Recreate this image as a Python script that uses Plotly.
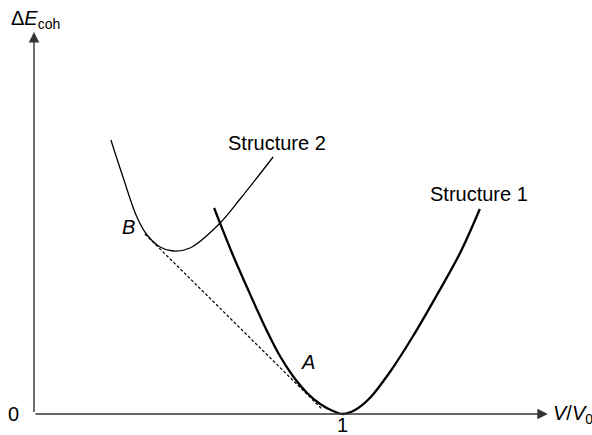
import plotly.graph_objects as go

# Structure 1 (thick curve): V/V0 vs ΔE_coh (arbitrary units)
s1_x = [0.583, 0.602, 0.641, 0.689, 0.754, 0.796, 0.838, 0.884, 0.926, 0.968, 1.000,
        1.039, 1.087, 1.152, 1.227, 1.304, 1.379, 1.443]
s1_y = [2.06, 1.91, 1.61, 1.27, 0.83, 0.58, 0.38, 0.21, 0.10, 0.03, 0.00,
        0.04, 0.16, 0.42, 0.78, 1.19, 1.61, 2.05]

# Structure 2 (thin curve)
s2_x = [0.249, 0.288, 0.333, 0.366, 0.408, 0.450, 0.505, 0.596, 0.667, 0.774]
s2_y = [2.74, 2.37, 1.97, 1.79, 1.67, 1.63, 1.66, 1.89, 2.15, 2.57]

# Common tangent (dashed) from B to A
tan_x = [0.359, 0.932]
tan_y = [1.80, 0.05]

# Axis extents (arrow tips)
x_axis_end = 1.663
y_axis_end = 3.82

# Labels
x_tick_label = "1"
y_tick_label = "0"
x_title = "<i>V</i>/<i>V</i><sub>0</sub>"
y_title = "Δ<i>E</i><sub>coh</sub>"

FONT = "Liberation Sans, Arial, Helvetica, sans-serif"
AXC = "#333333"

fig = go.Figure()
fig.add_trace(go.Scatter(x=s1_x, y=s1_y, mode="lines",
                         line=dict(color="black", width=2.3, shape="spline", smoothing=1.0),
                         hoverinfo="skip"))
fig.add_trace(go.Scatter(x=s2_x, y=s2_y, mode="lines",
                         line=dict(color="black", width=1.3, shape="spline", smoothing=1.0),
                         hoverinfo="skip"))
fig.add_trace(go.Scatter(x=tan_x, y=tan_y, mode="lines",
                         line=dict(color="black", width=1.2, dash="3px,2px"),
                         hoverinfo="skip"))

# Axes with arrows
fig.add_annotation(x=x_axis_end, y=0.0, ax=0.0, ay=0.0, xref="x", yref="y", axref="x", ayref="y",
                   text=" ", showarrow=True, arrowhead=2, arrowsize=1.5, arrowwidth=1.4,
                   arrowcolor=AXC, standoff=0, startstandoff=0, font=dict(size=1))
fig.add_annotation(x=0.0, y=y_axis_end, ax=0.0, ay=0.0, xref="x", yref="y", axref="x", ayref="y",
                   text=" ", showarrow=True, arrowhead=2, arrowsize=1.5, arrowwidth=1.4,
                   arrowcolor=AXC, standoff=0, startstandoff=0, font=dict(size=1))

def label(x, y, text, size=20, xanchor="center"):
    fig.add_annotation(x=x, y=y, xref="x", yref="y", text=text, showarrow=False,
                       xanchor=xanchor, yanchor="middle",
                       font=dict(family=FONT, size=size, color="black"))

label(1.0, -0.11, x_tick_label)
label(-0.065, 0.0, y_tick_label)
label(1.672, 0.0, x_title, xanchor="left")
label(-0.082, 3.95, y_title, xanchor="left")
label(1.441, 2.20, "Structure 1")
label(0.786, 2.71, "Structure 2")
label(0.307, 1.87, "<i>B</i>")
label(0.887, 0.52, "<i>A</i>")

fig.update_layout(
    width=592, height=435,
    margin=dict(l=0, r=0, t=0, b=0),
    paper_bgcolor="white", plot_bgcolor="white",
    showlegend=False,
    xaxis=dict(range=[-0.110, 1.806], visible=False, fixedrange=True),
    yaxis=dict(range=[-0.21, 4.14], visible=False, fixedrange=True),
)

fig.write_html("out.html", config={"displayModeBar": False},
               post_script="document.body.style.margin='0px';document.body.style.overflow='hidden';")
